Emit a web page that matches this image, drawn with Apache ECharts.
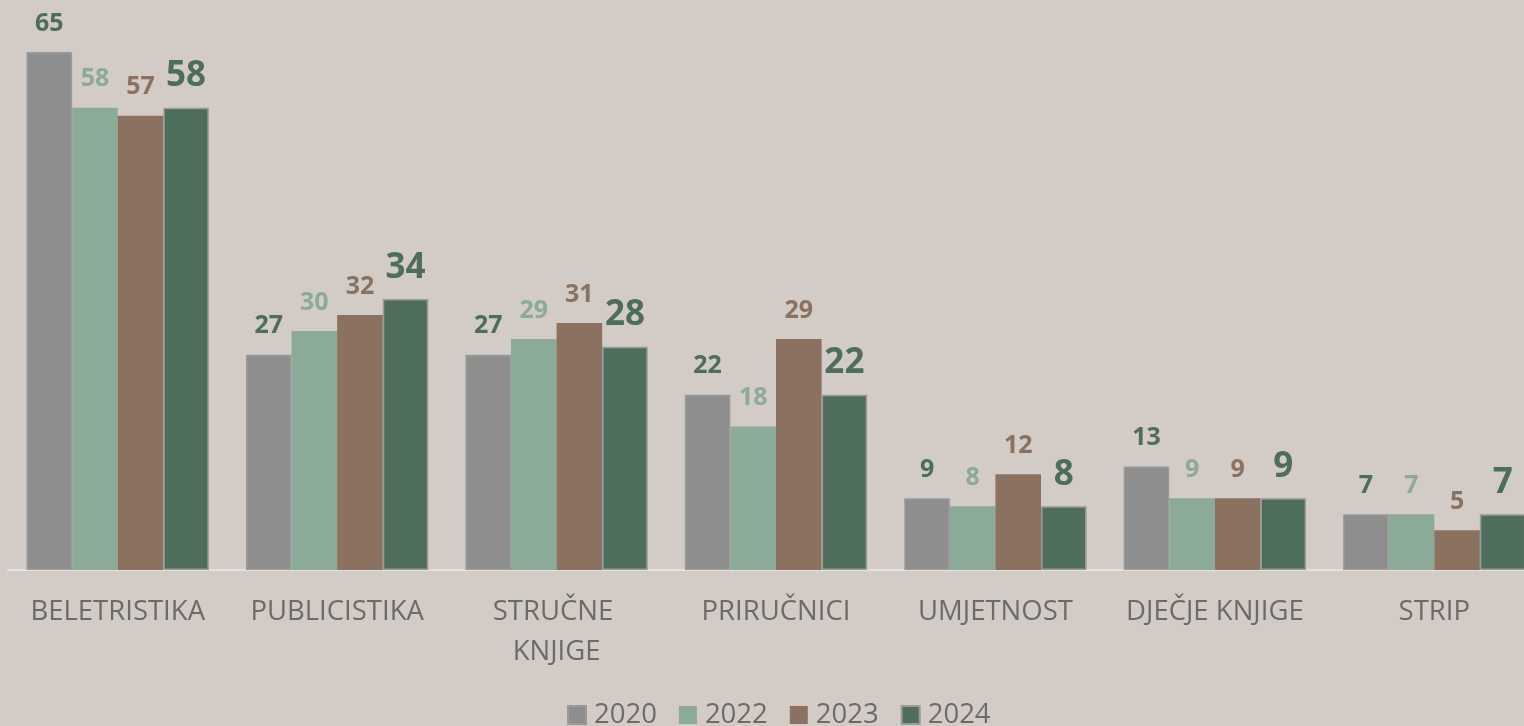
<!DOCTYPE html>
<html><head><meta charset="utf-8">
<script src="https://cdn.jsdelivr.net/npm/echarts@6/dist/echarts.min.js"></script>
<style>html,body{margin:0;padding:0;background:#d3cbc5;}#c{width:1524px;height:726px;}</style>
</head><body><div id="c"></div>
<script>
const categories = ['BELETRISTIKA','PUBLICISTIKA','STRUČNE KNJIGE','PRIRUČNICI','UMJETNOST','DJEČJE KNJIGE','STRIP'];
const seriesNames = ['2020','2022','2023','2024'];
const v2020 = [65,27,27,22,9,13,7];
const v2022 = [58,30,29,18,8,9,7];
const v2023 = [57,32,31,29,12,9,5];
const v2024 = [58,34,28,22,8,9,7];

const barColors = ['#8e8e8e','#8caa98','#8b7260','#4f6d5b'];
const labelColors = ['#4f6d5b','#8caa98','#8b7260','#4f6d5b'];
const labelSizes = [25,25,25,35];
const values = [v2020,v2022,v2023,v2024];
const font = '"Open Sans", sans-serif';

const chart = echarts.init(document.getElementById('c'), null, {renderer:'canvas'});
chart.setOption({
  backgroundColor:'#d3cbc5',
  animation:false,
  grid:{left:8, width:1536, top:52, bottom:156, containLabel:false, outerBoundsMode:'none'},
  xAxis:{type:'category', data:categories,
    axisLine:{lineStyle:{color:'#e6e2de', width:2}},
    axisTick:{show:false},
    axisLabel:{color:'#6b6b6b', fontSize:27.5, fontFamily:font, margin:22, lineHeight:40,
      width:205, overflow:'break', interval:0}},
  yAxis:{type:'value', min:0, max:65, show:false, splitLine:{show:false}},
  legend:{top:696, left:562, itemWidth:18, itemHeight:18, itemGap:22,
    icon:'rect',
    textStyle:{color:'#6b6b6b', fontSize:27.5, fontFamily:font, padding:[0,0,0,3]},
    data:seriesNames},
  series: seriesNames.map((n,i)=>({
    name:n, type:'bar', data:values[i], barGap:'0%', barCategoryGap:'16.9%',
    itemStyle:{color:barColors[i],
      borderColor:(i===0||i===3)?'#9a9a9a':barColors[i],
      borderWidth:(i===0||i===3)?1.5:0},
    label:{show:true, position:'top', distance: i===3?14:16,
      color:labelColors[i], fontSize:labelSizes[i], fontWeight:'bold', fontFamily:font}
  }))
});
</script>
</body></html>
